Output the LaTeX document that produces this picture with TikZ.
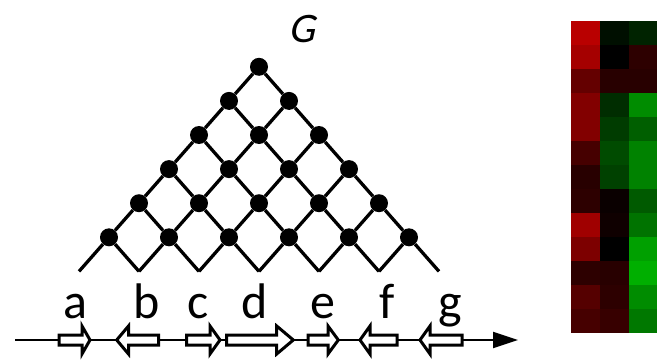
\documentclass[tikz,border=0pt]{standalone}
\usepackage{fontspec}
\setmainfont{Carlito}
\newfontfamily\slantfont[FakeSlant=0.22]{Carlito}
\usetikzlibrary{arrows.meta}

\tikzset{
	dot/.style={circle, fill=black, inner sep=0pt, minimum size=18pt},
	edge/.style={line width=3.3pt},
	gene/.style={draw, fill=white, line width=3pt, line join=miter},
	axis/.style={line width=2.2pt, -{Triangle[length=25pt,width=16pt]}},
	lbl/.style={anchor=base, inner sep=0pt, font=\fontsize{50}{54}\selectfont}
}

\begin{document}
\begin{tikzpicture}[x=1pt, y=-1pt]

	\useasboundingbox (0,0) rectangle (663,361);

	% lattice
	\node[dot] (n00) at (109, 237.3) {};
	\node[dot] (n01) at (169, 237.3) {};
	\node[dot] (n02) at (229, 237.3) {};
	\node[dot] (n03) at (289, 237.3) {};
	\node[dot] (n04) at (349, 237.3) {};
	\node[dot] (n05) at (409, 237.3) {};
	\node[dot] (n10) at (139, 203.2) {};
	\node[dot] (n11) at (199, 203.2) {};
	\node[dot] (n12) at (259, 203.2) {};
	\node[dot] (n13) at (319, 203.2) {};
	\node[dot] (n14) at (379, 203.2) {};
	\node[dot] (n20) at (169, 169.1) {};
	\node[dot] (n21) at (229, 169.1) {};
	\node[dot] (n22) at (289, 169.1) {};
	\node[dot] (n23) at (349, 169.1) {};
	\node[dot] (n30) at (199, 135) {};
	\node[dot] (n31) at (259, 135) {};
	\node[dot] (n32) at (319, 135) {};
	\node[dot] (n40) at (229, 100.9) {};
	\node[dot] (n41) at (289, 100.9) {};
	\node[dot] (n50) at (259, 66.8) {};

	\coordinate (b0) at (79, 271.4);
	\coordinate (b1) at (139, 271.4);
	\coordinate (b2) at (199, 271.4);
	\coordinate (b3) at (259, 271.4);
	\coordinate (b4) at (319, 271.4);
	\coordinate (b5) at (379, 271.4);
	\coordinate (b6) at (439, 271.4);

	\draw[edge] (b0) -- (n00) -- (n10) -- (n20) -- (n30) -- (n40) -- (n50);
	\draw[edge] (b1) -- (n01) -- (n11) -- (n21) -- (n31) -- (n41);
	\draw[edge] (b2) -- (n02) -- (n12) -- (n22) -- (n32);
	\draw[edge] (b3) -- (n03) -- (n13) -- (n23);
	\draw[edge] (b4) -- (n04) -- (n14);
	\draw[edge] (b5) -- (n05);

	\draw[edge] (b1) -- (n00);
	\draw[edge] (b2) -- (n01) -- (n10);
	\draw[edge] (b3) -- (n02) -- (n11) -- (n20);
	\draw[edge] (b4) -- (n03) -- (n12) -- (n21) -- (n30);
	\draw[edge] (b5) -- (n04) -- (n13) -- (n22) -- (n31) -- (n40);
	\draw[edge] (b6) -- (n05) -- (n14) -- (n23) -- (n32) -- (n41) -- (n50);

	\node[font=\fontsize{42}{46}\selectfont\slantfont] (title) at (302, 29) {G};

	% genome axis
	\coordinate (axs) at (15, 340);
	\coordinate (axe) at (518, 340);
	\draw[axis] (axs) -- (axe);

	\draw[gene] (59,335) -- (82,335) -- (82,326) -- (90,340) -- (82,354) -- (82,345) -- (59,345) -- cycle;
	\draw[gene] (158.5,335) -- (128.5,335) -- (128.5,326) -- (116.7,340) -- (128.5,354) -- (128.5,345) -- (158.5,345) -- cycle;
	\draw[gene] (186.5,335) -- (210,335) -- (210,326) -- (220,340) -- (210,354) -- (210,345) -- (186.5,345) -- cycle;
	\draw[gene] (226.5,335) -- (276.7,335) -- (276.7,326) -- (293.3,340) -- (276.7,354) -- (276.7,345) -- (226.5,345) -- cycle;
	\draw[gene] (308,335) -- (328,335) -- (328,326) -- (338.3,340) -- (328,354) -- (328,345) -- (308,345) -- cycle;
	\draw[gene] (397,335) -- (370,335) -- (370,326) -- (360,340) -- (370,354) -- (370,345) -- (397,345) -- cycle;
	\draw[gene] (462,335) -- (430,335) -- (430,326) -- (420,340) -- (430,354) -- (430,345) -- (462,345) -- cycle;

	\node[lbl] (la) at (75, 318) {a};
	\node[lbl] (lb) at (146.7, 318) {b};
	\node[lbl] (lc) at (198.3, 318) {c};
	\node[lbl] (ld) at (255, 318) {d};
	\node[lbl] (le) at (323.3, 318) {e};
	\node[lbl] (lf) at (386.7, 318) {f};
	\node[lbl] (lg) at (450, 318) {g};

	% expression heatmap
	\foreach \r/\ra/\ga/\rb/\gb/\rc/\gc in {
		0/185/0/0/15/0/35, 1/165/0/0/0/45/0, 2/100/0/40/0/40/0,
		3/130/0/0/45/0/140, 4/130/0/0/60/0/95, 5/70/0/0/75/0/130,
		6/40/0/0/65/0/130, 7/45/0/10/0/0/90, 8/160/0/15/0/0/115,
		9/125/0/0/0/0/160, 10/45/0/40/0/0/175, 11/85/0/45/0/0/140,
		12/70/0/55/0/0/120}
	{
		\fill[fill={rgb,255:red,\ra;green,\ga;blue,0}] (571, 21+24*\r) rectangle (600, 45+24*\r);
		\fill[fill={rgb,255:red,\rb;green,\gb;blue,0}] (600, 21+24*\r) rectangle (628.5, 45+24*\r);
		\fill[fill={rgb,255:red,\rc;green,\gc;blue,0}] (628.5, 21+24*\r) rectangle (657, 45+24*\r);
	}

\end{tikzpicture}
\end{document}
